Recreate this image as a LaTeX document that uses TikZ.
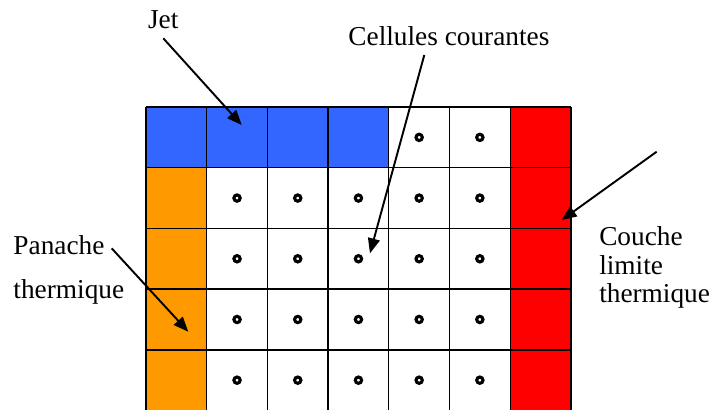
\documentclass[tikz,border=0pt]{standalone}
\usepackage{fontspec}
\setmainfont{Liberation Serif}
\newfontfamily\timesfam{Liberation Serif}
\usepackage{tikz}
\usetikzlibrary{arrows.meta}
\definecolor{bleujet}{RGB}{51,102,255}
\definecolor{orangepan}{RGB}{255,153,0}
\definecolor{rougecl}{RGB}{255,0,0}
\tikzset{
  grille/.style = {line width=0.65pt, black},
  point/.style  = {line width=1.45pt, black},
  etiq/.style   = {inner sep=0, font=\timesfam\fontsize{12.8}{13.5}\selectfont},
  fleche/.style = {line width=0.9pt, -{Triangle[length=7pt, width=5.6pt]}}
}

\begin{document}
\begin{tikzpicture}

  \useasboundingbox (-2.405,-4.975) rectangle (9.308,1.763);

  % ---------- cellules colorees ----------
  \fill[bleujet]   (0,0)  rectangle (4,-1);
  \fill[orangepan] (0,-1) rectangle (1,-5);
  \fill[rougecl]   (6,0)  rectangle (7,-5);
  \draw[grille] (0,-5) grid (7,0);

  % ---------- cellules courantes (points) ----------
  \foreach \c in {4,5} \draw[point] (\c+0.5,-0.5) circle (0.052);
  \foreach \r in {1,...,4}
    \foreach \c in {1,...,5} \draw[point] (\c+0.5,-\r-0.5) circle (0.052);

  % ---------- etiquettes ----------
  \node[etiq, anchor=base] (jet) at (0.285,1.30) {Jet};
  \node[etiq, anchor=base] (cour) at (4.99,1.02) {Cellules courantes};
  \node[etiq, anchor=north west, align=left] (pan) at (-2.19,-2.11) {Panache\\[7.1pt]thermique};
  \node[etiq, anchor=north west, align=left] (cl) at (7.46,-1.96) {Couche\\limite\\thermique};

  % ---------- fleches ----------
  \coordinate (jetA)  at (0.285,1.132);  \coordinate (jetB)  at (1.577,-0.297);
  \coordinate (courA) at (4.585,0.857);  \coordinate (courB) at (3.690,-2.410);
  \coordinate (panA)  at (-0.565,-2.328); \coordinate (panB) at (0.697,-3.702);
  \coordinate (clA)   at (8.413,-0.736); \coordinate (clB)   at (6.848,-1.862);
  \draw[fleche] (jetA)  -- (jetB);
  \draw[fleche] (courA) -- (courB);
  \draw[fleche] (panA)  -- (panB);
  \draw[fleche] (clA)   -- (clB);

\end{tikzpicture}
\end{document}
